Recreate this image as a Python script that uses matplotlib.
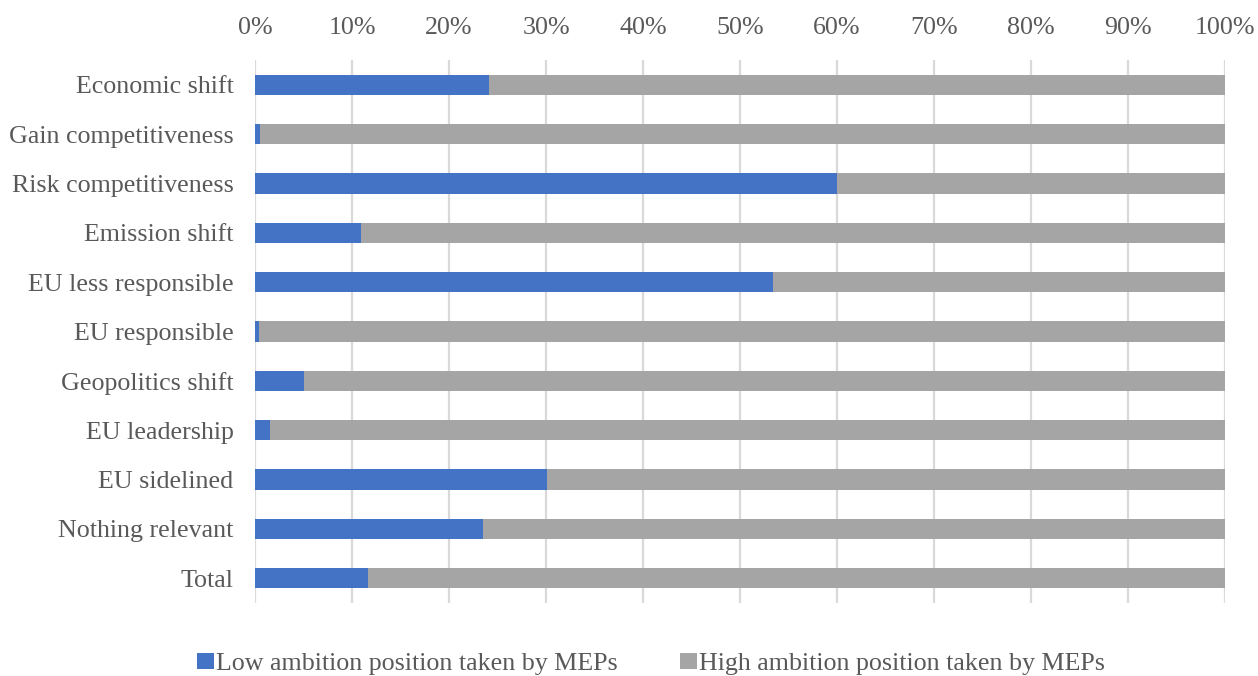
import matplotlib
matplotlib.use("Agg")
import matplotlib.pyplot as plt
import numpy as np

categories = [
    "Economic shift",
    "Gain competitiveness",
    "Risk competitiveness",
    "Emission shift",
    "EU less responsible",
    "EU responsible",
    "Geopolitics shift",
    "EU leadership",
    "EU sidelined",
    "Nothing relevant",
    "Total",
]
low_ambition = [24.1, 0.5, 60.0, 10.9, 53.4, 0.4, 5.1, 1.5, 30.1, 23.5, 11.6]
high_ambition = [100 - v for v in low_ambition]
series_names = ["Low ambition position taken by MEPs",
                "High ambition position taken by MEPs"]
tick_values = np.arange(0, 101, 10)
tick_labels = [f"{v}%" for v in tick_values]

plt.rcParams["font.family"] = ["Liberation Serif", "DejaVu Serif"]
text_color = "#595959"
blue = "#4472C4"
grey = "#A5A5A5"
fs = 18.7

fig = plt.figure(figsize=(12.58, 6.76), dpi=100)
ax = fig.add_axes([255 / 1258, 1 - 603 / 676, 970 / 1258, 543 / 676])

y = np.arange(len(categories))
ax.barh(y, low_ambition, height=0.41, color=blue, label=series_names[0], zorder=3)
ax.barh(y, high_ambition, left=low_ambition, height=0.41, color=grey,
        label=series_names[1], zorder=3)

ax.set_xlim(0, 100)
ax.set_ylim(len(categories) - 0.5, -0.5)
ax.set_xticks(tick_values)
ax.set_xticklabels(tick_labels)
ax.set_yticks(y)
ax.set_yticklabels(categories)
ax.xaxis.tick_top()
ax.tick_params(axis="x", length=0, pad=15, labelsize=fs, colors=text_color)
ax.tick_params(axis="y", length=0, pad=15.5, labelsize=fs, colors=text_color)
ax.grid(axis="x", color="#D9D9D9", linewidth=1.6, zorder=0)
for s in ax.spines.values():
    s.set_visible(False)

fig.legend(loc="center", bbox_to_anchor=(651 / 1258, 1 - 664 / 676), ncol=2,
           frameon=False, fontsize=fs, labelcolor=text_color,
           handlelength=0.65, handleheight=0.6, handletextpad=0.08,
           columnspacing=2.4, borderpad=0)

fig.savefig("out.png", dpi=100)
